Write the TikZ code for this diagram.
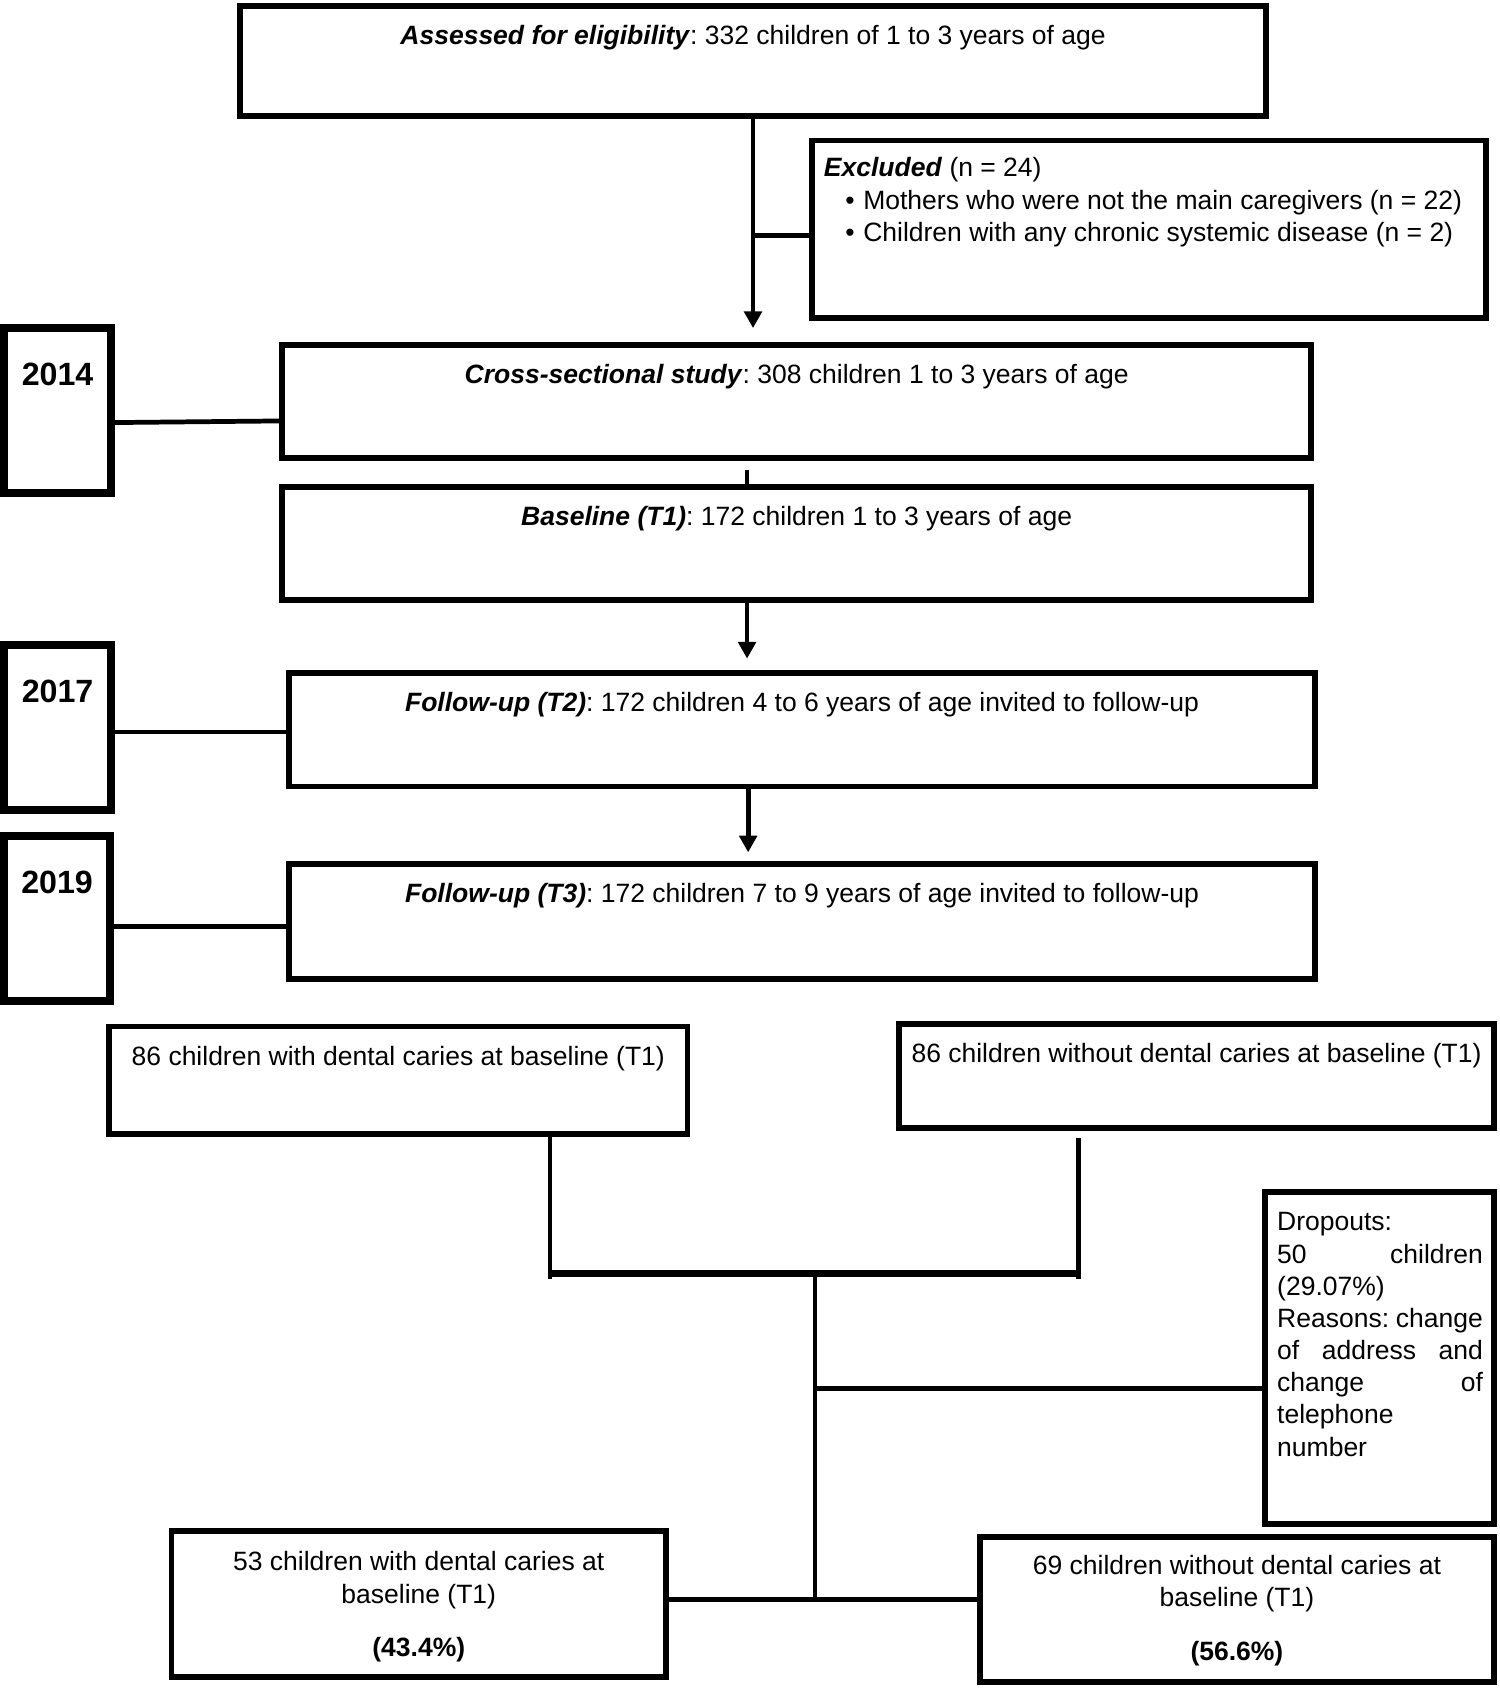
\documentclass[tikz,border=0pt]{standalone}
\usepackage{fontspec}
\setmainfont{Liberation Sans}
\usepackage{tikz}
\usetikzlibrary{positioning,arrows.meta}
\frenchspacing

\begin{document}
\begin{tikzpicture}[x=0.01cm, y=-0.01cm,
    box/.style={draw, line width=1.55pt, inner sep=0pt},
    yearbox/.style={draw, line width=2.1pt, inner sep=0pt, minimum width=0.99cm, minimum height=1.53cm},
    txt/.style={inner sep=0pt, font=\fontsize{7}{8.5}\selectfont, align=center},
    yeartxt/.style={inner sep=0pt, font=\fontsize{8.5}{10}\selectfont\bfseries},
    conn/.style={line width=1.25pt},
    arr/.style={line width=1.25pt, -{Triangle[length=4.4pt,width=4.6pt]}}]
    \useasboundingbox (0,0) rectangle (1393,1568);

    % Enrolment
    \node[box, minimum width=9.52cm, minimum height=1.02cm] (assess) at (699.5,56.5) {};
    \node[txt, below=0.2cm of assess.north] (assesstxt) {\textbf{\textit{Assessed for eligibility}}: 332 children of 1 to 3 years of age};

    \node[box, minimum width=6.26cm, minimum height=1.65cm] (excl) at (1067.5,213) {};
    \node[txt, align=left, below right=0.18cm and 0.13cm of excl.north west] (excltxt)
        {\textbf{\textit{Excluded}} (n = 24)\\
         \hspace*{0.2cm}\textbullet\hspace{0.08cm}Mothers who were not the main caregivers (n = 22)\\
         \hspace*{0.2cm}\textbullet\hspace{0.08cm}Children with any chronic systemic disease (n = 2)};

    % Waves
    \node[yearbox] (y2014) at (53.5,381.5) {};
    \node[yeartxt, below=0.35cm of y2014.north] (t2014) {2014};
    \node[box, minimum width=9.55cm, minimum height=1.05cm] (cross) at (740,373) {};
    \node[txt, below=0.2cm of cross.north] (crosstxt) {\textbf{\textit{Cross-sectional study}}: 308 children 1 to 3 years of age};

    \node[box, minimum width=9.55cm, minimum height=1.05cm] (base) at (740,505) {};
    \node[txt, below=0.2cm of base.north] (basetxt) {\textbf{\textit{Baseline (T1)}}: 172 children 1 to 3 years of age};

    \node[yearbox] (y2017) at (53.5,676) {};
    \node[yeartxt, below=0.35cm of y2017.north] (t2017) {2017};
    \node[box, minimum width=9.53cm, minimum height=1.05cm] (fu2) at (745,678) {};
    \node[txt, below=0.2cm of fu2.north] (fu2txt) {\textbf{\textit{Follow-up (T2)}}: 172 children 4 to 6 years of age invited to follow-up};

    \node[yearbox] (y2019) at (53,853.5) {};
    \node[yeartxt, below=0.35cm of y2019.north] (t2019) {2019};
    \node[box, minimum width=9.53cm, minimum height=1.07cm] (fu3) at (745,856) {};
    \node[txt, below=0.2cm of fu3.north] (fu3txt) {\textbf{\textit{Follow-up (T3)}}: 172 children 7 to 9 years of age invited to follow-up};

    % Groups
    \node[box, minimum width=5.37cm, minimum height=1.0cm] (with1) at (370,1003.5) {};
    \node[txt, below=0.2cm of with1.north] (with1txt) {86 children with dental caries at baseline (T1)};
    \node[box, minimum width=5.52cm, minimum height=0.96cm] (wout1) at (1111.5,999.5) {};
    \node[txt, below=0.2cm of wout1.north] (wout1txt) {86 children without dental caries at baseline (T1)};

    \node[box, minimum width=2.12cm, minimum height=3.08cm] (drop) at (1281.5,1261.5) {};
    \node[txt, align=left, text width=1.91cm, below right=0.21cm and 0.13cm of drop.north west] (droptxt)
        {Dropouts:\\ 50\hfill children\\ (29.07\%)\\ Reasons:\hfill change\\ of\hfill address\hfill and\\ change\hfill of\\ telephone\\ number};

    \node[box, minimum width=4.59cm, minimum height=1.35cm] (with2) at (389,1490) {};
    \node[txt, below=0.21cm of with2.north] (with2txt) {53 children with dental caries at\\ baseline (T1)\\[0.2cm] \textbf{(43.4\%)}};
    \node[box, minimum width=4.77cm, minimum height=1.35cm] (wout2) at (1149,1495) {};
    \node[txt, below=0.19cm of wout2.north] (wout2txt) {69 children without dental caries at\\ baseline (T1)\\[0.2cm] \textbf{(56.6\%)}};

    % Flow
    \draw[arr, shorten >=0.13cm] (assess.south) -- (assess.south |- cross.north);
    \draw[conn] ([yshift=-0.06cm]excl.west) -- ([yshift=-0.06cm]excl.west -| assess.south);
    \draw[conn] ([xshift=-0.46cm,yshift=-0.08cm]cross.south) -- ([xshift=-0.46cm]base.north);
    \draw[arr, shorten >=0.11cm] ([xshift=-0.46cm]base.south) -- ([xshift=-0.46cm]base.south |- fu2.north);
    \draw[arr, shorten >=0.08cm] ([xshift=-0.5cm]fu2.south) -- ([xshift=-0.5cm]fu2.south |- fu3.north);

    \draw[conn] ([yshift=-0.11cm]y2014.east) -- ([yshift=-0.18cm]cross.west);
    \draw[conn] ([yshift=-0.04cm]y2017.east) -- ([yshift=-0.04cm]y2017.east -| fu2.west);
    \draw[conn] ([yshift=-0.07cm]y2019.east) -- ([yshift=-0.07cm]y2019.east -| fu3.west);

    \coordinate (barL) at (511,1183);
    \coordinate (barR) at (1002,1183);
    \coordinate (barM) at (757,1183);
    \coordinate (dropM) at (757,1290);
    \coordinate (botM) at (757,1486);
    \draw[conn] (with1.south -| barL) -- ([yshift=-0.05cm]barL);
    \draw[conn] ([yshift=-0.07cm]wout1.south -| barR) -- ([yshift=-0.05cm]barR);
    \draw[line width=1.8pt] (barL) -- (barR);
    \draw[conn] (barM) -- (botM);
    \draw[conn] (dropM) -- (dropM -| drop.west);
    \draw[conn] (with2.east |- botM) -- (wout2.west |- botM);
\end{tikzpicture}
\end{document}
